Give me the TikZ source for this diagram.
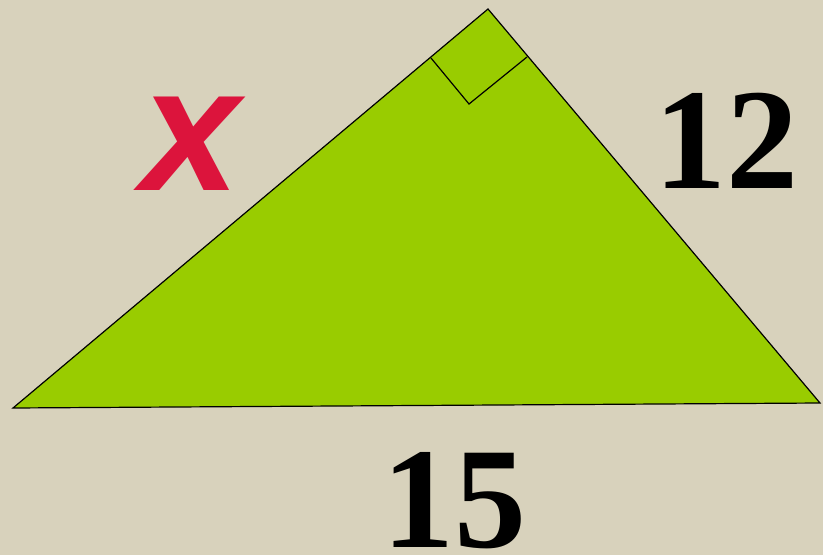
\documentclass[tikz,border=0pt]{standalone}
\usepackage{fontspec}
\setmainfont{Liberation Serif}
\setsansfont{Liberation Sans}
\definecolor{Bgfill}{RGB}{216,210,188}
\definecolor{Gfill}{RGB}{153,204,0}
\definecolor{Xred}{RGB}{220,20,60}
\tikzset{
  side/.style={line width=1.2pt,line join=miter},
  sidelabel/.style={inner sep=0pt,font=\bfseries\fontsize{144}{144}\selectfont},
  varlabel/.style={inner sep=0pt,text=Xred,font=\sffamily\bfseries\itshape\fontsize{177}{177}\selectfont}
}
\begin{document}
\begin{tikzpicture}[x=1pt,y=-1pt]
\fill[Bgfill] (0,0) rectangle (823,555);
\useasboundingbox (0,0) rectangle (823,555);
\coordinate (L) at (13,408);
\coordinate (T) at (488,9);
\coordinate (R) at (820,403);
\coordinate (mL) at (431,58);
\coordinate (mC) at (469,104);
\coordinate (mR) at (527,57);
\filldraw[side,fill=Gfill] (L) -- (T) -- (R) -- cycle;
\draw[side] (mL) -- (mC) -- (mR);
\node[varlabel] (x) at (191,144) {x};
\node[sidelabel] (a) at (726,141) {12};
\node[sidelabel] (c) at (454,501) {15};
\end{tikzpicture}
\end{document}
